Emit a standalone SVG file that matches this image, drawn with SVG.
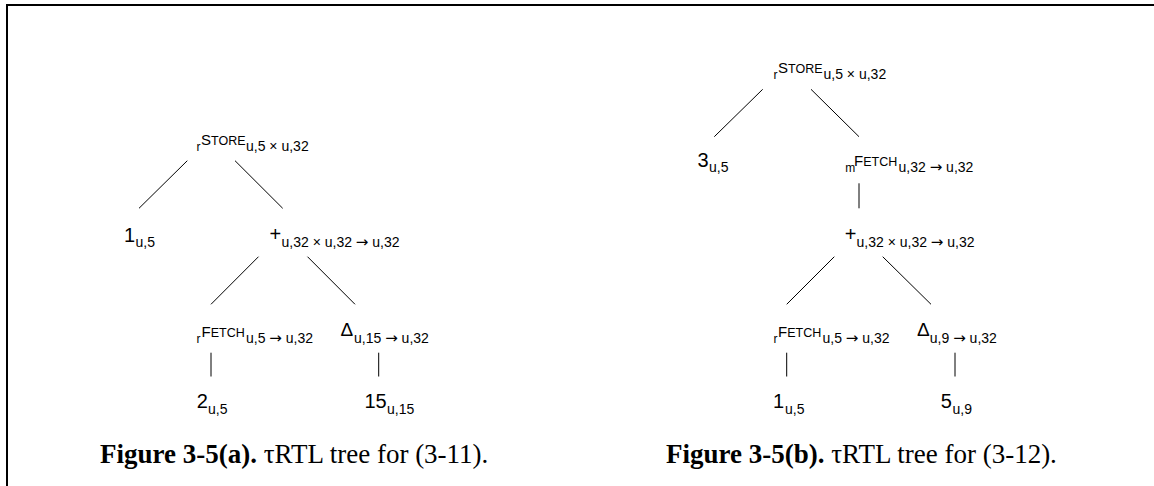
<svg xmlns="http://www.w3.org/2000/svg" width="1154" height="486" viewBox="0 0 1154 486">
<style>
.t{font-family:"Liberation Sans","DejaVu Sans",sans-serif;fill:#000}
.big{font-size:20px}
.sub{font-size:14px}
.ar{font-family:"DejaVu Sans",sans-serif;font-size:15px}
.pre{font-size:12px}
.c1{font-size:15px}
.c2{font-size:12.5px}
.dl{font-size:19px}
.cap{font-family:"Liberation Serif","DejaVu Serif",serif;font-size:27px;fill:#000}
.b{font-weight:bold}
.e{stroke:#000;stroke-width:1;fill:none}
.frame{stroke:#000;stroke-width:2;fill:none}
</style>
<rect width="1154" height="486" fill="#fff"/>
<path class="frame" d="M7,486 V5 H1154"/>
<g id="connectors">
<line class="e" x1="187.3" y1="160.7" x2="139" y2="208.3"/>
<line class="e" x1="235" y1="160.7" x2="282.7" y2="208.3"/>
<line class="e" x1="258.5" y1="256.7" x2="211" y2="304.3"/>
<line class="e" x1="307.5" y1="256.7" x2="355" y2="304.3"/>
<line class="e" x1="211" y1="352.7" x2="211" y2="376.5"/>
<line class="e" x1="378.7" y1="352.7" x2="378.7" y2="376.5"/>
<line class="e" x1="762.7" y1="89.3" x2="714.3" y2="136.7"/>
<line class="e" x1="811" y1="89.3" x2="859" y2="136.7"/>
<line class="e" x1="859" y1="183.3" x2="859" y2="208.3"/>
<line class="e" x1="834.3" y1="256.7" x2="786.7" y2="304.3"/>
<line class="e" x1="882.7" y1="256.7" x2="931" y2="304.3"/>
<line class="e" x1="786.7" y1="352.7" x2="786.7" y2="376.5"/>
<line class="e" x1="955" y1="352.7" x2="955" y2="376.5"/>
</g>
<g id="a-store"><text class="t"><tspan class="pre" x="196.5" y="151">r</tspan><tspan class="c1" x="201" y="145">S</tspan><tspan class="c2">TORE</tspan><tspan class="sub" x="246" y="151">u,5 × u,32</tspan></text></g>
<g id="a-one"><text class="t"><tspan class="big" x="124" y="241.5">1</tspan><tspan class="sub" x="135.5" y="247">u,5</tspan></text></g>
<g id="a-plus"><text class="t"><tspan class="big" x="269.5" y="240.5">+</tspan><tspan class="sub" x="281.5" y="246.7">u,32 × u,32 </tspan><tspan class="ar">→</tspan><tspan class="sub"> u,32</tspan></text></g>
<g id="a-fetch"><text class="t"><tspan class="pre" x="196.5" y="342.8">r</tspan><tspan class="c1" x="201.5" y="336.5">F</tspan><tspan class="c2">ETCH</tspan><tspan class="sub" x="246" y="342.8">u,5 </tspan><tspan class="ar">→</tspan><tspan class="sub"> u,32</tspan></text></g>
<g id="a-delta"><text class="t"><tspan class="dl" x="340.5" y="336">Δ</tspan><tspan class="sub" x="354" y="342.8">u,15 </tspan><tspan class="ar">→</tspan><tspan class="sub"> u,32</tspan></text></g>
<g id="a-two"><text class="t"><tspan class="big" x="196.7" y="407.5">2</tspan><tspan class="sub" x="208" y="414">u,5</tspan></text></g>
<g id="a-fifteen"><text class="t"><tspan class="big" x="364.5" y="407.5">15</tspan><tspan class="sub" x="387" y="414">u,15</tspan></text></g>
<g id="b-store"><text class="t"><tspan class="pre" x="773.5" y="79.3">r</tspan><tspan class="c1" x="778" y="73.3">S</tspan><tspan class="c2">TORE</tspan><tspan class="sub" x="823.5" y="79.3">u,5 × u,32</tspan></text></g>
<g id="b-three"><text class="t"><tspan class="big" x="697.5" y="166.7">3</tspan><tspan class="sub" x="709" y="172">u,5</tspan></text></g>
<g id="b-mfetch"><text class="t"><tspan class="pre" x="845.2" y="171.7">m</tspan><tspan class="c1" x="854" y="166">F</tspan><tspan class="c2">ETCH</tspan><tspan class="sub" x="898.5" y="171.7">u,32 </tspan><tspan class="ar">→</tspan><tspan class="sub"> u,32</tspan></text></g>
<g id="b-plus"><text class="t"><tspan class="big" x="844.7" y="240.5">+</tspan><tspan class="sub" x="856.5" y="246.7">u,32 × u,32 </tspan><tspan class="ar">→</tspan><tspan class="sub"> u,32</tspan></text></g>
<g id="b-fetch"><text class="t"><tspan class="pre" x="773.5" y="343.3">r</tspan><tspan class="c1" x="778" y="337.3">F</tspan><tspan class="c2">ETCH</tspan><tspan class="sub" x="822.5" y="343.3">u,5 </tspan><tspan class="ar">→</tspan><tspan class="sub"> u,32</tspan></text></g>
<g id="b-delta"><text class="t"><tspan class="dl" x="917" y="336">Δ</tspan><tspan class="sub" x="929.8" y="343.3">u,9 </tspan><tspan class="ar">→</tspan><tspan class="sub"> u,32</tspan></text></g>
<g id="b-one"><text class="t"><tspan class="big" x="773" y="407.5">1</tspan><tspan class="sub" x="785" y="414">u,5</tspan></text></g>
<g id="b-five"><text class="t"><tspan class="big" x="940.8" y="407.5">5</tspan><tspan class="sub" x="952.5" y="414">u,9</tspan></text></g>
<g id="caption-a"><text class="cap" x="100" y="463"><tspan class="b">Figure 3-5(a).</tspan> τRTL tree for (3-11).</text></g>
<g id="caption-b"><text class="cap" x="666" y="463"><tspan class="b">Figure 3-5(b).</tspan> τRTL tree for (3-12).</text></g>
</svg>
